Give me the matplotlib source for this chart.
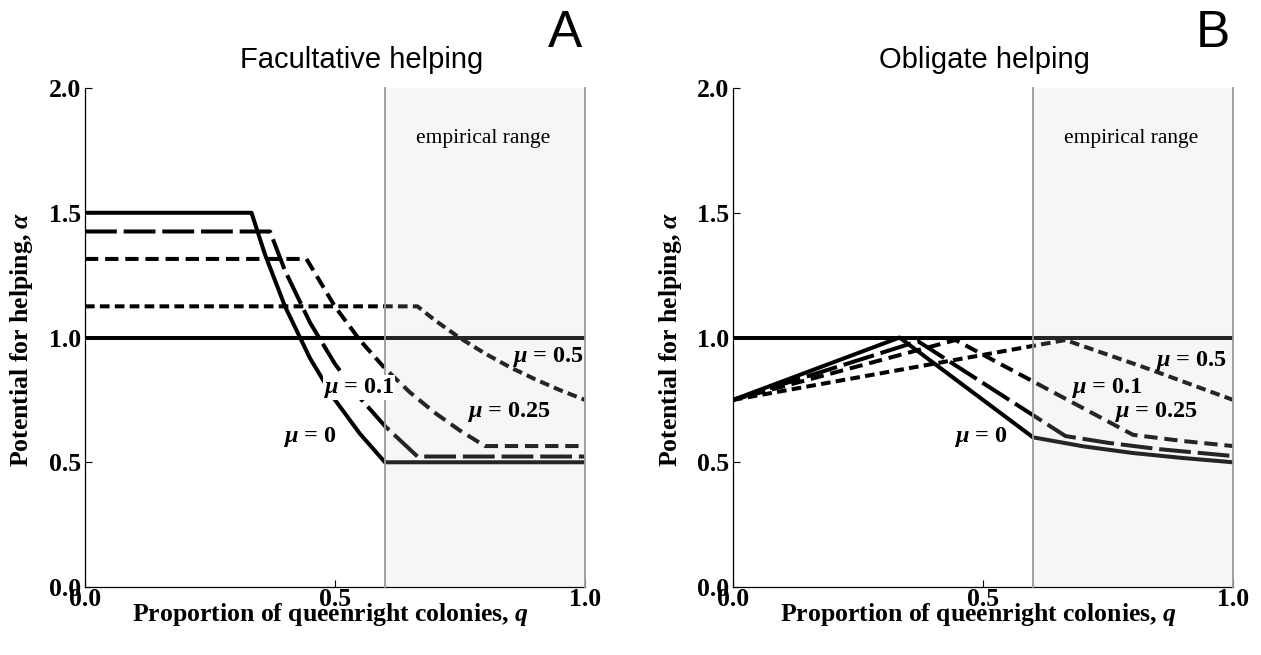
import matplotlib
matplotlib.use("Agg")
import matplotlib.pyplot as plt

plt.rcParams['mathtext.fontset'] = 'custom'
plt.rcParams['mathtext.rm'] = 'Liberation Serif:bold'
plt.rcParams['mathtext.it'] = 'Liberation Serif:italic:bold'
plt.rcParams['mathtext.bf'] = 'Liberation Serif:bold'

SERIF = 'Liberation Serif'
SANS = 'Liberation Sans'

# ---------------- data ----------------
# Panel A: facultative helping
fac_mu0_q = [0.0, 0.333, 0.36, 0.40, 0.45, 0.50, 0.55, 0.60, 1.0]
fac_mu0_a = [1.50, 1.50, 1.333, 1.125, 0.917, 0.75, 0.614, 0.50, 0.50]

fac_mu01_q = [0.0, 0.37, 0.40, 0.45, 0.50, 0.55, 0.60, 0.665, 1.0]
fac_mu01_a = [1.425, 1.425, 1.268, 1.06, 0.894, 0.758, 0.645, 0.523, 0.523]

fac_mu025_q = [0.0, 0.443, 0.50, 0.55, 0.60, 0.65, 0.70, 0.75, 0.80, 1.0]
fac_mu025_a = [1.315, 1.315, 1.124, 0.989, 0.876, 0.780, 0.698, 0.627, 0.565, 0.565]

fac_mu05_q = [0.0, 0.665, 0.70, 0.75, 0.80, 0.85, 0.90, 0.95, 1.0]
fac_mu05_a = [1.125, 1.125, 1.069, 0.998, 0.936, 0.881, 0.833, 0.789, 0.75]

# Panel B: obligate helping
obl_mu0_q = [0.0, 0.333, 0.60, 0.70, 0.80, 0.90, 1.0]
obl_mu0_a = [0.75, 1.0, 0.60, 0.564, 0.537, 0.517, 0.50]

obl_mu01_q = [0.0, 0.37, 0.665, 0.75, 0.85, 1.0]
obl_mu01_a = [0.75, 0.985, 0.605, 0.578, 0.553, 0.525]

obl_mu025_q = [0.0, 0.445, 0.80, 0.90, 1.0]
obl_mu025_a = [0.75, 0.99, 0.61, 0.585, 0.565]

obl_mu05_q = [0.0, 0.665, 0.83, 1.0]
obl_mu05_a = [0.75, 0.99, 0.875, 0.75]

baseline_q = [0.0, 1.0]
baseline_a = [1.0, 1.0]

empirical_range = [0.6, 1.0]

mu_labels = [r"$\mu$ = 0", r"$\mu$ = 0.1", r"$\mu$ = 0.25", r"$\mu$ = 0.5"]
xticks = [0.0, 0.5, 1.0]
yticks = [0.0, 0.5, 1.0, 1.5, 2.0]

# label positions (data coords)
lab_pos_A = [(0.45, 0.60), (0.548, 0.798), (0.848, 0.702), (0.926, 0.922)]
lab_pos_B = [(0.496, 0.60), (0.748, 0.798), (0.846, 0.702), (0.916, 0.906)]

# ---------------- styles ----------------
LW = 2.9
styles = [
    dict(linestyle='-'),
    dict(linestyle=(0, (7.9, 1.7))),
    dict(linestyle=(0, (3.3, 1.7))),
    dict(linestyle=(0, (2.4, 1.3))),
]

fig = plt.figure(figsize=(12.61, 6.55), dpi=100)
axA = fig.add_axes([0.0674, 0.1038, 0.3965, 0.7618])
axB = fig.add_axes([0.5813, 0.1038, 0.3965, 0.7618])

panels = [
    (axA, [(fac_mu0_q, fac_mu0_a), (fac_mu01_q, fac_mu01_a),
           (fac_mu025_q, fac_mu025_a), (fac_mu05_q, fac_mu05_a)],
     lab_pos_A, "Facultative helping", 0.554, "A"),
    (axB, [(obl_mu0_q, obl_mu0_a), (obl_mu01_q, obl_mu01_a),
           (obl_mu025_q, obl_mu025_a), (obl_mu05_q, obl_mu05_a)],
     lab_pos_B, "Obligate helping", 0.502, "B"),
]

tick_font = dict(family=SERIF, fontweight='bold', fontsize=18.5)

for ax, series, labpos, title, tx, letter in panels:
    ax.plot(baseline_q, baseline_a, color='black', lw=LW, solid_capstyle='butt', zorder=3)
    for (q, a), st in zip(series, styles):
        ax.plot(q, a, color='black', lw=LW, solid_capstyle='butt',
                dash_capstyle='butt', zorder=3, **st)
    # empirical range shading (overlay)
    ax.axvspan(empirical_range[0], empirical_range[1], ymin=0, ymax=1,
               facecolor='#d0d0d0', alpha=0.18, edgecolor='none', zorder=4)
    for xv in empirical_range:
        ax.plot([xv, xv], [0, 2], color='#9a9a9a', lw=1.3, zorder=5, clip_on=False)
    ax.text(0.797, 1.78, "empirical range", family=SERIF, fontsize=15.5,
            ha='center', va='baseline', zorder=6)

    for i, (lab, (lx, ly)) in enumerate(zip(mu_labels, labpos)):
        kw = {}
        if ax is axA and i == 1:
            kw['bbox'] = dict(facecolor='white', edgecolor='none', pad=0.3)
        ax.text(lx, ly, lab, family=SERIF, fontweight='bold', fontsize=17.5,
                ha='center', va='center', zorder=7, **kw)

    ax.set_xlim(0, 1.0)
    ax.set_ylim(0, 2.0)
    ax.tick_params(direction='in', length=5, width=0.8)
    ax.tick_params(axis='x', pad=0.5)
    ax.tick_params(axis='y', pad=3)
    ax.set_xticks(xticks)
    ax.set_yticks(yticks)
    ax.set_xticklabels([f"{v:.1f}" for v in xticks], **tick_font)
    ax.set_yticklabels([f"{v:.1f}" for v in yticks], **tick_font)
    for s in ['top', 'right']:
        ax.spines[s].set_visible(False)
    for s in ['left', 'bottom']:
        ax.spines[s].set_linewidth(0.9)
    ax.text(0.491, -0.068, r"Proportion of queenright colonies, $q$", transform=ax.transAxes,
            family=SERIF, fontweight='bold', fontsize=18.5, ha='center', va='baseline')
    ax.text(-0.126, 0.497, r"Potential for helping, $\alpha$", transform=ax.transAxes,
            family=SERIF, fontweight='bold', fontsize=18.5, ha='center', va='center',
            rotation=90)
    ax.text(tx, 1.040, title, transform=ax.transAxes, family=SANS, fontsize=21,
            ha='center', va='baseline')
    ax.text(0.960, 1.082, letter, transform=ax.transAxes, family=SANS, fontsize=37,
            ha='center', va='baseline')

fig.savefig("out.png", dpi=100)
